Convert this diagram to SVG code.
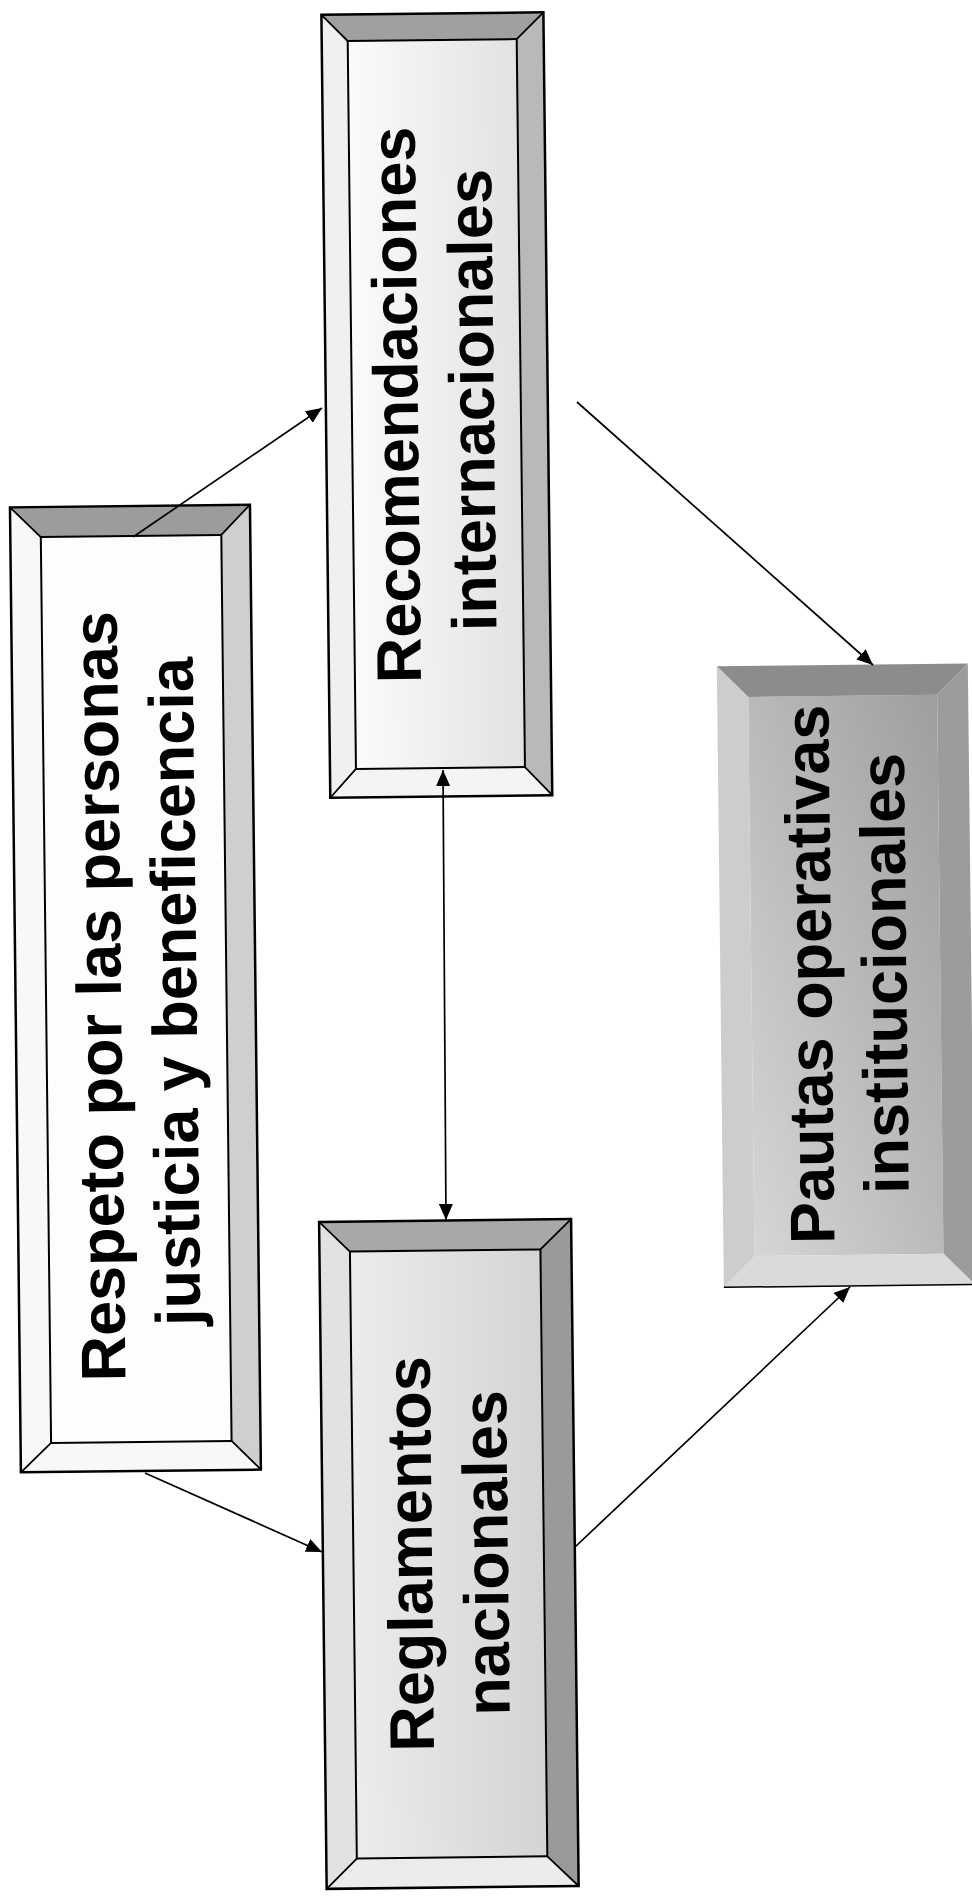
<svg xmlns="http://www.w3.org/2000/svg" width="972" height="1897" viewBox="0 0 972 1897">
<defs>
<style>
.o{fill:none;stroke:#000;stroke-width:2.5}
.i{fill:none;stroke:#000;stroke-width:2}
.d{stroke:#000;stroke-width:1.8}
.t{font-family:"Liberation Sans",Arial,sans-serif;font-weight:bold;font-size:63px;fill:#000;text-anchor:middle}
.c{fill:none;stroke:#000;stroke-width:1.7}
</style>
<linearGradient id="g2" x1="0" y1="0" x2="1" y2="0"><stop offset="0" stop-color="#fbfbfb"/><stop offset="1" stop-color="#e2e2e2"/></linearGradient>
<linearGradient id="g3" x1="0" y1="0" x2="1" y2="0"><stop offset="0" stop-color="#ececec"/><stop offset="1" stop-color="#d4d4d4"/></linearGradient>
<linearGradient id="g4" x1="0" y1="1" x2="1" y2="0"><stop offset="0" stop-color="#d6d6d6"/><stop offset="1" stop-color="#9e9e9e"/></linearGradient>
<marker id="ah" markerWidth="16" markerHeight="14" refX="16" refY="7" orient="auto-start-reverse" markerUnits="userSpaceOnUse"><path d="M0,0 L16,7 L0,14 z" fill="#000"/></marker>
</defs>
<rect width="972" height="1897" fill="#fff"/>
<g transform="rotate(-0.65 486 948)">
<g id="respeto">
<rect x="45.5" y="532" width="180.5" height="906" fill="#fdfdfd"/>
<polygon points="15,502 255,502 226,532 45.5,532" fill="#9c9c9c"/>
<polygon points="255,502 255,1467 226,1438 226,532" fill="#cfcfcf"/>
<polygon points="15,1467 255,1467 226,1438 45.5,1438" fill="#f8f8f8"/>
<polygon points="15,502 45.5,532 45.5,1438 15,1467" fill="#f8f8f8"/>
<rect class="o" x="15" y="502" width="240" height="965"/>
<rect class="i" x="45.5" y="532" width="180.5" height="906"/>
<path class="d" d="M15,502L45.5,532M255,502L226,532M255,1467L226,1438M15,1467L45.5,1438"/>
<text class="t" transform="translate(120.5,992) rotate(-90)">Respeto por las personas</text>
<text class="t" transform="translate(196,988) rotate(-90)">justicia y beneficencia</text>
</g>
<g id="recomendaciones">
<rect x="358" y="39.5" width="169" height="728" fill="url(#g2)"/>
<polygon points="332,13 554,13 527,39.5 358,39.5" fill="#a0a0a0"/>
<polygon points="554,13 554,796 527,767.5 527,39.5" fill="#b9b9b9"/>
<polygon points="332,796 554,796 527,767.5 358,767.5" fill="#f4f4f4"/>
<polygon points="332,13 358,39.5 358,767.5 332,796" fill="#f0f0f0"/>
<rect class="o" x="332" y="13" width="222" height="783"/>
<rect class="i" x="358" y="39.5" width="169" height="728"/>
<path class="d" d="M332,13L358,39.5M554,13L527,39.5M554,796L527,767.5M332,796L358,767.5"/>
<text class="t" transform="translate(424,404) rotate(-90)">Recomendaciones</text>
<text class="t" transform="translate(500,400) rotate(-90)">internacionales</text>
</g>
<g id="reglamentos">
<rect x="346.5" y="1250" width="190.5" height="607" fill="url(#g3)"/>
<polygon points="316,1220 568,1220 537,1250 346.5,1250" fill="#a8a8a8"/>
<polygon points="568,1220 568,1887 537,1857 537,1250" fill="#9a9a9a"/>
<polygon points="316,1887 568,1887 537,1857 346.5,1857" fill="#ececec"/>
<polygon points="316,1220 346.5,1250 346.5,1857 316,1887" fill="#e2e2e2"/>
<rect class="o" x="316" y="1220" width="252" height="667"/>
<rect class="i" x="346.5" y="1250" width="190.5" height="607"/>
<path class="d" d="M316,1220L346.5,1250M568,1220L537,1250M568,1887L537,1857M316,1887L346.5,1857"/>
<text class="t" transform="translate(425,1553) rotate(-90)">Reglamentos</text>
<text class="t" transform="translate(501,1553) rotate(-90)">nacionales</text>
</g>
<g id="pautas">
<rect x="751" y="700" width="189" height="559" fill="url(#g4)"/>
<polygon points="720,669 971,669 940,700 751,700" fill="#8c8c8c"/>
<polygon points="971,669 971,1290 940,1259 940,700" fill="#9c9c9c"/>
<polygon points="720,1290 971,1290 940,1259 751,1259" fill="#dadada"/>
<polygon points="720,669 751,700 751,1259 720,1290" fill="#cdcdcd"/>
<line x1="720" y1="1290" x2="971" y2="1290" stroke="#000" stroke-width="1.5"/>
<text class="t" transform="translate(831,978) rotate(-90)">Pautas operativas</text>
<text class="t" transform="translate(906,978) rotate(-90)">institucionales</text>
</g>
</g>
<g id="connectors">
<line class="c" x1="133" y1="537" x2="322" y2="408" marker-end="url(#ah)"/>
<line class="c" x1="145" y1="1473" x2="322" y2="1552" marker-end="url(#ah)"/>
<line class="c" x1="577" y1="402" x2="873" y2="665" marker-end="url(#ah)"/>
<line class="c" x1="575" y1="1547" x2="850" y2="1287" marker-end="url(#ah)"/>
<line class="c" x1="443" y1="770" x2="446" y2="1220" marker-start="url(#ah)" marker-end="url(#ah)"/>
</g>
</svg>
